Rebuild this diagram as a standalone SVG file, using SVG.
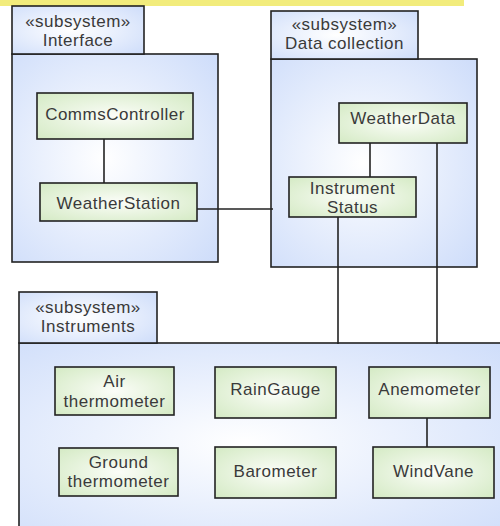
<svg xmlns="http://www.w3.org/2000/svg" width="500" height="526" viewBox="0 0 500 526">
<defs>
<radialGradient id="pkg" cx="0.45" cy="0.5" r="0.75">
<stop offset="0" stop-color="#ffffff"/>
<stop offset="1" stop-color="#cddcfa"/>
</radialGradient>
<radialGradient id="cls" cx="0.5" cy="0.5" r="0.7">
<stop offset="0" stop-color="#fbfdf8"/>
<stop offset="1" stop-color="#d4eac4"/>
</radialGradient>
<style>
.pkg{fill:url(#pkg);stroke:#222;stroke-width:1.6}
.cls{fill:url(#cls);stroke:#222;stroke-width:1.6}
.t{font-family:"Liberation Sans",Arial,sans-serif;font-size:17px;letter-spacing:0.5px;fill:#3a3a3a;text-anchor:middle}
.c{stroke:#222;stroke-width:1.6;fill:none}
</style>
</defs>
<rect x="0" y="0" width="464" height="6" fill="#f2ec7c"/>

<g id="pkg-interface">
<rect class="pkg" x="12" y="54" width="206" height="208"/>
<rect class="pkg" x="12" y="6" width="132" height="48"/>
<text class="t" x="78" y="26.5">«subsystem»</text>
<text class="t" x="78" y="46">Interface</text>
</g>
<g id="pkg-datacollection">
<rect class="pkg" x="271" y="59" width="206" height="208"/>
<rect class="pkg" x="271" y="11" width="147" height="48"/>
<text class="t" x="344.5" y="29.5">«subsystem»</text>
<text class="t" x="344.5" y="49">Data collection</text>
</g>
<g id="pkg-instruments">
<rect class="pkg" x="19" y="343" width="500" height="200"/>
<rect class="pkg" x="19" y="292" width="138" height="51"/>
<text class="t" x="88" y="312.5">«subsystem»</text>
<text class="t" x="88" y="332">Instruments</text>
</g>

<g id="connectors">
<line class="c" x1="104" y1="139" x2="104" y2="183"/>
<line class="c" x1="197" y1="209" x2="273" y2="209"/>
<line class="c" x1="370" y1="143" x2="370" y2="177"/>
<line class="c" x1="338" y1="217" x2="338" y2="344"/>
<line class="c" x1="437" y1="143" x2="437" y2="344"/>
<line class="c" x1="427" y1="418" x2="427" y2="447"/>
</g>

<g id="CommsController">
<rect class="cls" x="37" y="93" width="156" height="46"/>
<text class="t" x="115" y="120">CommsController</text>
</g>
<g id="WeatherStation">
<rect class="cls" x="40" y="183" width="157" height="38"/>
<text class="t" x="118.5" y="209">WeatherStation</text>
</g>
<g id="WeatherData">
<rect class="cls" x="339" y="103" width="128" height="40"/>
<text class="t" x="403" y="124">WeatherData</text>
</g>
<g id="InstrumentStatus">
<rect class="cls" x="289" y="177" width="127" height="40"/>
<text class="t" x="352.5" y="193.5">Instrument</text>
<text class="t" x="352.5" y="213">Status</text>
</g>
<g id="AirThermometer">
<rect class="cls" x="55" y="367" width="119" height="48"/>
<text class="t" x="114.5" y="387">Air</text>
<text class="t" x="114.5" y="406.5">thermometer</text>
</g>
<g id="GroundThermometer">
<rect class="cls" x="59" y="448" width="119" height="48"/>
<text class="t" x="118.5" y="467.5">Ground</text>
<text class="t" x="118.5" y="487">thermometer</text>
</g>
<g id="RainGauge">
<rect class="cls" x="215" y="367" width="121" height="51"/>
<text class="t" x="275.5" y="395">RainGauge</text>
</g>
<g id="Barometer">
<rect class="cls" x="215" y="447" width="121" height="51"/>
<text class="t" x="275.5" y="477">Barometer</text>
</g>
<g id="Anemometer">
<rect class="cls" x="369" y="367" width="121" height="51"/>
<text class="t" x="429.5" y="395">Anemometer</text>
</g>
<g id="WindVane">
<rect class="cls" x="373" y="447" width="121" height="51"/>
<text class="t" x="433.5" y="477">WindVane</text>
</g>
</svg>
